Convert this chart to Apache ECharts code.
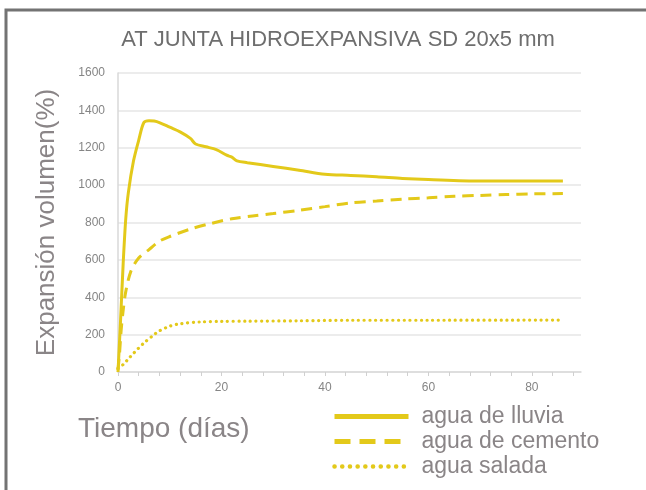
<!DOCTYPE html>
<html>
<head>
<meta charset="utf-8">
<script src="https://cdn.jsdelivr.net/npm/echarts@6/dist/echarts.min.js"></script>
<style>
html,body{margin:0;padding:0;background:#fff;}
#c{width:646px;height:490px;}
</style>
</head>
<body>
<div id="c"></div>
<script>
const titleText = 'AT JUNTA HIDROEXPANSIVA SD 20x5 mm';
const xName = 'Tiempo (días)';
const yName = 'Expansión volumen(%)';
const seriesNames = ['agua de lluvia', 'agua de cemento', 'agua salada'];

const lluviaDias = [0, 0.5, 1, 1.5, 2, 3, 4, 5, 6, 7, 8, 10, 12, 14, 15, 17, 19, 21, 22, 23, 25, 30, 35, 40, 45, 50, 55, 60, 70, 86];
const lluviaVals = [0, 280, 580, 820, 960, 1130, 1240, 1335, 1345, 1343, 1335, 1310, 1285, 1250, 1220, 1205, 1190, 1160, 1150, 1130, 1120, 1100, 1080, 1058, 1052, 1045, 1036, 1030, 1022, 1022];

const cementoDias = [0, 0.3, 0.6, 1, 1.5, 2.5, 4, 6, 8, 10, 14, 18, 22, 26, 30, 35, 40, 45, 50, 55, 60, 65, 70, 75, 80, 86];
const cementoVals = [10, 100, 220, 330, 430, 540, 610, 655, 700, 725, 765, 795, 820, 835, 848, 865, 885, 905, 915, 925, 932, 940, 945, 950, 953, 955];

const saladaDias = [0, 1, 2, 3, 5, 7, 8, 10, 12, 16, 20, 25, 35, 45, 60, 86];
const saladaVals = [20, 40, 70, 100, 155, 200, 220, 245, 258, 268, 271, 272, 274, 277, 277, 278];

const zip = (xs, ys) => xs.map((x, i) => [x, ys[i]]);
const yellow = '#e3c91a';
const gray = '#858585';
const hidden = {opacity: 0, color: 'rgba(0,0,0,0)', borderWidth: 0};

const chart = echarts.init(document.getElementById('c'), null, {renderer: 'canvas'});
chart.setOption({
  backgroundColor: '#fff',
  animation: false,
  title: {
    text: titleText,
    left: 333, top: 24, textAlign: 'center',
    textStyle: {fontFamily: 'Liberation Sans', fontSize: 22, fontWeight: 'normal', color: '#6e6e6e'}
  },
  grid: {left: 118, right: 65, top: 73, bottom: 118, containLabel: false},
  xAxis: {
    type: 'value', min: 0, max: 89.5, interval: 4,
    axisLine: {lineStyle: {color: '#d9d9d9', width: 1.5}},
    axisTick: {show: true, length: 4, lineStyle: {color: '#d0d0d0'}},
    splitLine: {show: false},
    axisLabel: {
      margin: 10, color: gray, fontFamily: 'Liberation Sans', fontSize: 12,
      showMaxLabel: false,
      formatter: v => (v % 20 === 0 ? String(v) : '')
    }
  },
  yAxis: {
    type: 'value', min: 0, max: 1600, interval: 200,
    name: yName, nameLocation: 'middle', nameGap: 58,
    nameTextStyle: {fontFamily: 'Liberation Sans', fontSize: 26, color: '#8a8587'},
    axisLine: {show: true, lineStyle: {color: '#d9d9d9', width: 1.5}},
    axisTick: {show: false},
    splitLine: {lineStyle: {color: '#e6e6e6', width: 1.5}},
    axisLabel: {margin: 13, color: gray, fontFamily: 'Liberation Sans', fontSize: 12, formatter: v => String(v)}
  },
  legend: {
    orient: 'vertical', left: 327, top: 400,
    itemWidth: 74, itemHeight: 14, itemGap: 2,
    itemStyle: hidden,
    textStyle: {fontFamily: 'Liberation Sans', fontSize: 23, color: '#8a8587', padding: [0, 0, 0, 8]},
    data: [
      {name: seriesNames[0], itemStyle: hidden, lineStyle: {width: 5, type: 'solid', color: yellow}},
      {name: seriesNames[1], itemStyle: hidden, lineStyle: {width: 5, type: [16, 9], color: yellow}},
      {name: seriesNames[2], itemStyle: hidden, lineStyle: {width: 4.5, type: [0.1, 7.6], cap: 'round', color: yellow}}
    ]
  },
  graphic: [
    {type: 'polyline', silent: true, shape: {points: [[6, 490], [6, 10], [646, 10]]},
     style: {stroke: '#737373', lineWidth: 3, fill: null}},
    {type: 'text', left: 78, top: 415,
     style: {text: xName, fontFamily: 'Liberation Sans', fontSize: 28, fill: '#8a8587'}}
  ],
  series: [
    {name: seriesNames[0], type: 'line', symbol: 'none', data: zip(lluviaDias, lluviaVals),
     smooth: 0.3, lineStyle: {color: yellow, width: 3, type: 'solid'}, itemStyle: {color: yellow}},
    {name: seriesNames[1], type: 'line', symbol: 'none', data: zip(cementoDias, cementoVals),
     smooth: 0.3, lineStyle: {color: yellow, width: 3, type: [11, 7]}, itemStyle: {color: yellow}},
    {name: seriesNames[2], type: 'line', symbol: 'none', data: zip(saladaDias, saladaVals),
     smooth: 0.3, lineStyle: {color: yellow, width: 3.2, type: [0.1, 5.6], cap: 'round'}, itemStyle: {color: yellow}}
  ]
});
</script>
</body>
</html>
